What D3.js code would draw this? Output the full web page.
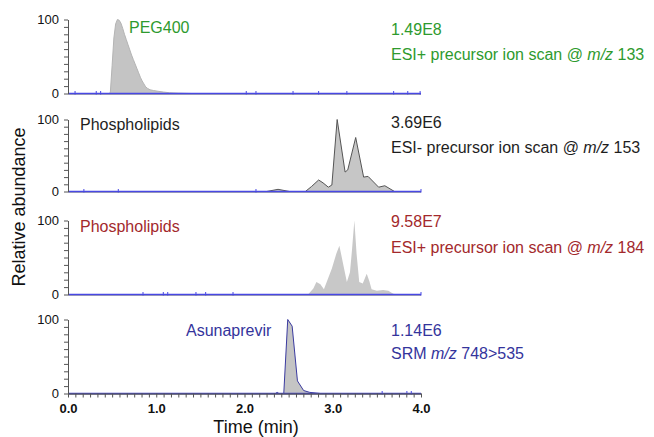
<!DOCTYPE html>
<html>
<head>
<meta charset="utf-8">
<script src="https://cdn.jsdelivr.net/npm/d3@7"></script>
<style>
  html, body { margin: 0; padding: 0; background: #fff; }
  svg { display: block; font-family: "Liberation Sans", Arial, sans-serif; }
</style>
</head>
<body>
<svg id="chart" width="654" height="437"></svg>
<script>
// ---- data ---------------------------------------------------------------
// retention time axis (min)
const timeDomain = [0, 4];
const timeLabels = [0, 1, 2, 3, 4];
const abundanceLabels = [0, 100];

// PEG400 - ESI+ precursor ion scan @ m/z 133
const pegTime  = [0, 0.47, 0.48, 0.50, 0.52, 0.54, 0.56, 0.58, 0.60, 0.62, 0.64, 0.66, 0.68, 0.70, 0.72, 0.74, 0.76, 0.78, 0.80, 0.82, 0.84, 0.86, 0.88, 0.90, 0.93, 0.97, 1.02, 1.08, 1.15, 1.25, 1.40, 4];
const pegAbund = [0, 0,    2,    38,   75,   94,   100,  99,   95,   88,   80,   73,   66,   59,   52,   46,   40,   34,   28,   22,   17,   13,   9,    7,    5,    4,    3,    2,    1,    0.5,  0,    0];
const pegScans = [0.08, 0.32, 0.37, 2.02, 2.13, 2.55, 2.84, 3.16, 3.69, 3.85, 3.99];

// Phospholipids - ESI- precursor ion scan @ m/z 153
const pl153Time  = [0, 2.25, 2.38, 2.51, 2.69, 2.76, 2.84, 2.89, 2.95, 2.99, 3.05, 3.14, 3.17, 3.26, 3.35, 3.40, 3.52, 3.59, 3.70, 4];
const pl153Abund = [0, 0,    3,    0,    0,    7,    16,   12,   6,    9,    100,  27,   30,   75,   20,   21,   6,    8,    0,    0];
const pl153Scans = [0.18, 0.57, 2.13, 4.0];

// Phospholipids - ESI+ precursor ion scan @ m/z 184
const pl184Time  = [0, 2.72, 2.78, 2.815, 2.86, 2.90, 2.99, 3.04, 3.075, 3.12, 3.16, 3.195, 3.218, 3.245, 3.27, 3.30, 3.34, 3.385, 3.415, 3.44, 3.50, 3.57, 3.63, 3.686, 3.74, 4];
const pl184Abund = [0, 0,    8,    17,    14,   7,    35,   55,   66,    40,   17,   30,    60,    100,   55,   17,   15,   28,    18,    7,    5,    6,    5,    1,     0,    0];
const pl184Scans = [0.85, 1.08, 1.13, 1.45, 1.56, 1.87, 4.0];

// Asunaprevir - SRM m/z 748>535
const asvTime  = [0, 2.35, 2.37, 2.39, 2.445, 2.49, 2.54, 2.60, 2.67, 2.74, 2.86, 4];
const asvAbund = [0, 0,    1.5,  0,    0,     100,  91,   17,   4,    1.5,  0,    0];
const asvScans = [3.56, 3.84, 3.89];

// panel annotations
const panelNames  = ["PEG400", "Phospholipids", "Phospholipids", "Asunaprevir"];
const panelMaxima = ["1.49E8", "3.69E6", "9.58E7", "1.14E6"];
const scanPrefix  = ["ESI+ precursor ion scan @ ", "ESI- precursor ion scan @ ", "ESI+ precursor ion scan @ ", "SRM "];
const scanSuffix  = [" 133", " 153", " 184", " 748>535"];

// ---- layout -------------------------------------------------------------
const W = 654, H = 437;
const plotLeft = 68, plotRight = 421;
const panelTop    = [19.5, 119.5, 220.5, 319.5];
const panelBottom = [93.5, 191.5, 294.5, 393.5];
const nameX       = [129, 80, 80, 186];
const nameY       = [33, 130, 232, 336];
const maxY        = [35, 128, 227, 336];
const scanY       = [60, 153, 253, 359];
const infoX = 391;

const styles = [
  { color: "#2e9a2e", fill: "#c4c4c4", stroke: "#b4b4b4" },
  { color: "#1e1e1e", fill: "#c6c6c6", stroke: "#555555" },
  { color: "#a3292c", fill: "#c8c8c8", stroke: "none" },
  { color: "#34349c", fill: "#c4c4c4", stroke: "#3a3aa0" }
];
const baselineColor = "#4848e4";

const traces = [
  { t: pegTime,   v: pegAbund,   scans: pegScans },
  { t: pl153Time, v: pl153Abund, scans: pl153Scans },
  { t: pl184Time, v: pl184Abund, scans: pl184Scans },
  { t: asvTime,   v: asvAbund,   scans: asvScans }
];

// ---- drawing ------------------------------------------------------------
const svg = d3.select("#chart");
const x = d3.scaleLinear().domain(timeDomain).range([plotLeft, plotRight]);

traces.forEach((tr, i) => {
  const st = styles[i];
  const y = d3.scaleLinear().domain([0, 100]).range([panelBottom[i], panelTop[i]]);
  const g = svg.append("g");
  const pts = tr.t.map((t, k) => [t, tr.v[k]]);

  // chromatogram trace
  g.append("path")
    .datum(pts)
    .attr("d", d3.area().x(d => x(d[0])).y0(y(0)).y1(d => y(d[1])))
    .attr("fill", st.fill)
    .attr("stroke", "none");
  if (st.stroke !== "none") {
    g.append("path")
      .datum(pts)
      .attr("d", d3.line().x(d => x(d[0])).y(d => y(d[1])))
      .attr("fill", "none")
      .attr("stroke", st.stroke)
      .attr("stroke-width", 1)
      .attr("stroke-linejoin", "round");
  }

  // baseline with scan markers
  g.append("line")
    .attr("x1", x(timeDomain[0])).attr("x2", x(timeDomain[1]))
    .attr("y1", y(0) + 0.8).attr("y2", y(0) + 0.8)
    .attr("stroke", "#9a9a9a").attr("stroke-width", 1);
  g.append("line")
    .attr("x1", x(timeDomain[0])).attr("x2", x(timeDomain[1]))
    .attr("y1", y(0)).attr("y2", y(0))
    .attr("stroke", i === 3 ? "#4444c8" : baselineColor).attr("stroke-width", 1.3);
  g.selectAll("line.scan")
    .data(tr.scans)
    .enter().append("line")
    .attr("class", "scan")
    .attr("x1", d => x(d)).attr("x2", d => x(d))
    .attr("y1", y(0) - 2.5).attr("y2", y(0) + 1)
    .attr("stroke", baselineColor).attr("stroke-width", 1);

  // relative abundance axis
  const ya = g.append("g")
    .attr("transform", `translate(${plotLeft},0)`)
    .call(d3.axisLeft(y)
      .tickValues(d3.range(0, 101, 10))
      .tickSize(4)
      .tickSizeOuter(0)
      .tickPadding(5)
      .tickFormat(d => abundanceLabels.includes(d) ? d : ""));
  ya.select(".domain").attr("stroke", "#555");
  ya.selectAll(".tick line").attr("stroke", "#555");
  ya.selectAll(".tick text")
    .attr("font-size", 13)
    .attr("font-family", "Liberation Sans, Arial, sans-serif")
    .attr("fill", "#111");

  // annotations
  g.append("text")
    .attr("x", nameX[i]).attr("y", nameY[i])
    .attr("font-size", 16).attr("fill", st.color)
    .text(panelNames[i]);
  g.append("text")
    .attr("x", infoX).attr("y", maxY[i])
    .attr("font-size", 16).attr("fill", st.color)
    .text(panelMaxima[i]);
  const s = g.append("text")
    .attr("x", infoX).attr("y", scanY[i])
    .attr("font-size", 16).attr("fill", st.color);
  s.append("tspan").text(scanPrefix[i]);
  s.append("tspan").attr("font-style", "italic").text("m/z");
  s.append("tspan").text(scanSuffix[i]);

  // time axis on the bottom panel only
  if (i === 3) {
    const xa = svg.append("g")
      .attr("transform", `translate(0,${panelBottom[i]})`)
      .call(d3.axisBottom(x)
        .tickValues(d3.range(0, 49).map(k => k / 12))
        .tickSize(4)
        .tickSizeOuter(0)
        .tickPadding(6)
        .tickFormat(d => {
          const r = Math.round(d);
          return (Math.abs(d - r) < 1e-9 && timeLabels.includes(r)) ? r.toFixed(1) : "";
        }));
    xa.select(".domain").attr("stroke", "#555");
    xa.selectAll(".tick line").attr("stroke", "#555");
    xa.selectAll(".tick text")
      .attr("font-size", 13)
      .attr("font-weight", "bold")
      .attr("font-family", "Liberation Sans, Arial, sans-serif")
      .attr("fill", "#111");
  }
});

// axis titles
svg.append("text")
  .attr("transform", "translate(25,207) rotate(-90)")
  .attr("text-anchor", "middle")
  .attr("font-size", 18)
  .attr("fill", "#111")
  .text("Relative abundance");
svg.append("text")
  .attr("x", 256).attr("y", 433)
  .attr("text-anchor", "middle")
  .attr("font-size", 18)
  .attr("fill", "#111")
  .text("Time (min)");
</script>
</body>
</html>
